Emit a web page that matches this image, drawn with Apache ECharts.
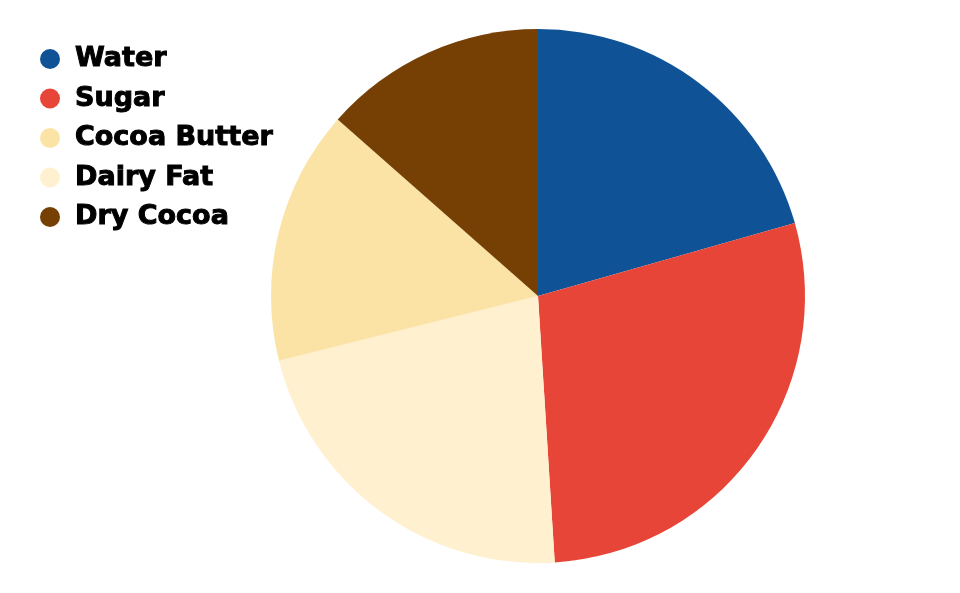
<!DOCTYPE html>
<html>
<head>
<meta charset="utf-8">
<script src="https://cdn.jsdelivr.net/npm/echarts@6/dist/echarts.min.js"></script>
<style>html,body{margin:0;padding:0;background:#fff;}#c{width:960px;height:593px;}</style>
</head>
<body>
<div id="c"></div>
<script>
const categories = ["Water", "Sugar", "Dairy Fat", "Cocoa Butter", "Dry Cocoa"];
const values = [20.6, 28.4, 22.1, 15.4, 13.5];
const legendOrder = ["Water", "Sugar", "Cocoa Butter", "Dairy Fat", "Dry Cocoa"];
const colors = {"Water": "#0f5396", "Sugar": "#e84539", "Dairy Fat": "#fff1cf", "Cocoa Butter": "#fae3a5", "Dry Cocoa": "#763f04"};

const chart = echarts.init(document.getElementById('c'), null, {renderer: 'canvas'});
chart.setOption({
  animation: false,
  backgroundColor: '#ffffff',
  legend: {
    orient: 'vertical',
    left: 35,
    top: 40,
    data: legendOrder,
    icon: 'circle',
    itemWidth: 20,
    itemHeight: 20,
    itemGap: 11.5,
    textStyle: {fontFamily: 'DejaVu Sans', fontWeight: 'bold', fontSize: 27, color: '#000', padding: [0, 0, 0, 10], lineHeight: 28, textBorderColor: '#000', textBorderWidth: 1}
  },
  series: [{
    type: 'pie',
    center: [538, 296],
    radius: 267,
    startAngle: 90,
    clockwise: true,
    label: {show: false},
    labelLine: {show: false},
    emphasis: {disabled: true},
    data: categories.map((c, i) => ({name: c, value: values[i], itemStyle: {color: colors[c]}}))
  }]
});
</script>
</body>
</html>
